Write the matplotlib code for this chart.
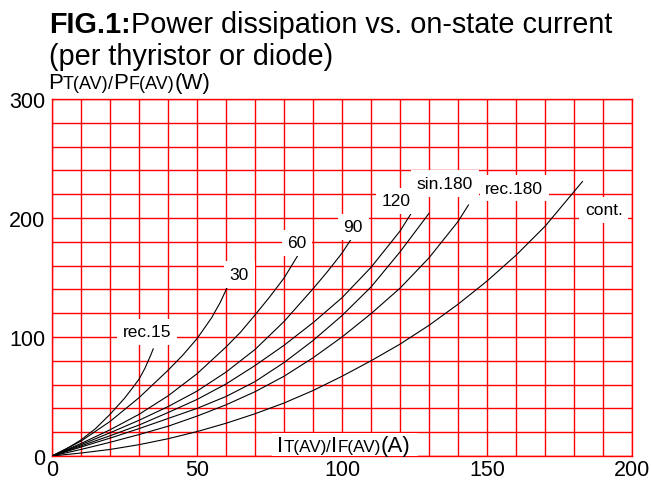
import matplotlib
matplotlib.use("Agg")
import matplotlib.pyplot as plt
from matplotlib.transforms import IdentityTransform
from matplotlib.patches import Rectangle

plt.rcParams['font.family'] = ['Liberation Sans', 'DejaVu Sans']

# curves: on-state current (A) -> power (W)
i_rec15 = [0, 5, 10, 15, 20, 25, 28, 30, 32, 34, 34.9]
p_rec15 = [0, 6, 13.5, 23, 35, 48.5, 58, 64.5, 73.5, 84.5, 90]

i_30 = [0, 10, 20, 30, 40, 45, 50, 55, 58, 60, 61.7]
p_30 = [0, 12.5, 29, 49, 72, 84.5, 98.6, 116, 129, 139.5, 149]

i_60 = [0, 10, 20, 30, 40, 50, 60, 65, 70, 75, 80, 84.9]
p_60 = [0, 10.5, 22, 35, 50.5, 69.1, 91.6, 104, 118.5, 133.5, 149.5, 169]

i_90 = [0, 10, 20, 30, 40, 50, 60, 70, 80, 90, 95, 100, 103.5]
p_90 = [0, 9.5, 19.5, 30, 41.5, 54.5, 70.5, 89.5, 113, 140.5, 155, 170.5, 183.5]

i_120 = [0, 10, 20, 30, 40, 50, 60, 70, 80, 90, 100, 110, 120, 124.6]
p_120 = [0, 8.5, 17, 26, 36.5, 47.5, 60.5, 76, 93, 112, 133, 158.5, 189, 206.7]

i_sin180 = [0, 10, 20, 30, 40, 50, 60, 70, 80, 90, 100, 110, 120, 130]
p_sin180 = [0, 7.5, 15, 23, 31.5, 40, 50, 62.5, 78.5, 97, 118, 142, 171.5, 203.9]

i_rec180 = [0, 10, 20, 30, 40, 50, 60, 70, 80, 90, 100, 110, 120, 130, 140, 143.6]
p_rec180 = [0, 5.5, 11.5, 18, 25, 33.5, 43, 54, 67, 82.5, 100, 119.6, 141, 166.5, 197, 210.9]

i_cont = [0, 10, 20, 30, 40, 50, 60, 70, 80, 90, 100, 110, 120, 130, 140, 150, 160, 170, 182.9]
p_cont = [0, 2.5, 5.5, 9.5, 14.5, 20.5, 27.5, 35.5, 44.5, 55, 67, 80, 94, 109.8, 127.5, 147, 168.7, 193, 230.6]

curves = [(i_rec15, p_rec15), (i_30, p_30), (i_60, p_60), (i_90, p_90),
          (i_120, p_120), (i_sin180, p_sin180), (i_rec180, p_rec180), (i_cont, p_cont)]

labels = ["rec.15", "30", "60", "90", "120", "sin.180", "rec.180", "cont."]
label_x = [32.8, 64.6, 84.4, 103.9, 118.6, 135.5, 159.4, 190.3]
label_y = [104.5, 152.5, 179.2, 192.7, 214.6, 229, 225, 207]

x_ticks = [0, 50, 100, 150, 200]
y_ticks = [0, 100, 200, 300]

W, H = 651, 481
fig = plt.figure(figsize=(W / 100, H / 100), dpi=100)
ax = fig.add_axes([52 / W, 1 - 457 / H, 580 / W, 357 / H])

ax.set_xlim(0, 200)
ax.set_ylim(0, 300)
ax.set_xticks(x_ticks)
ax.set_yticks(y_ticks)
ax.set_xticks(range(0, 201, 10), minor=True)
ax.set_yticks(range(0, 301, 20), minor=True)
ax.grid(True, which='both', color='#ff0000', lw=1.0)
ax.set_axisbelow(True)
for s in ax.spines.values():
    s.set_color('#ff0000')
    s.set_linewidth(1.0)
ax.tick_params(which='both', length=0)
ax.tick_params(axis='y', labelsize=15.5, pad=5)
ax.tick_params(axis='x', labelsize=15.5, pad=2.5)

for xs, ys in curves:
    ax.plot(xs, ys, color='black', lw=0.8, zorder=3)

for t, x, y in zip(labels, label_x, label_y):
    ax.text(x, y, t, fontsize=12.5, ha='center', va='center', zorder=4,
            bbox=dict(facecolor='white', edgecolor='none', pad=4))

fig.canvas.draw()
renderer = fig.canvas.get_renderer()


def mixed_text(x, y, pieces):
    # pieces of text on a shared baseline, x/y in pixels from top-left
    yd = H - y
    for txt, size, weight in pieces:
        t = fig.text(x, yd, txt, fontsize=size, fontweight=weight,
                     ha='left', va='baseline', transform=IdentityTransform(), zorder=5)
        x += t.get_window_extent(renderer).width
    return x


mixed_text(49, 33, [("FIG.1:", 20.8, 'bold'),
                    ("Power dissipation vs. on-state current", 20.8, 'normal')])
mixed_text(49, 65, [("(per thyristor or diode)", 20.8, 'normal')])

mixed_text(48, 89, [("P", 16, 'normal'), ("T(AV)", 13, 'normal'), ("/", 13, 'normal'),
                    ("P", 16, 'normal'), ("F(AV)", 13, 'normal'), ("(W)", 16, 'normal')])

# x axis title sits inside the plot on a white patch
fig.patches.append(Rectangle((272, H - 457), 146, 23, transform=IdentityTransform(),
                             facecolor='white', edgecolor='none', zorder=4))
mixed_text(277, 452, [("I", 16, 'normal'), ("T(AV)", 12.3, 'normal'), ("/", 12.3, 'normal'),
                      ("I", 16, 'normal'), ("F(AV)", 12.3, 'normal'), ("(A)", 16, 'normal')])

fig.savefig("out.png", dpi=100)
